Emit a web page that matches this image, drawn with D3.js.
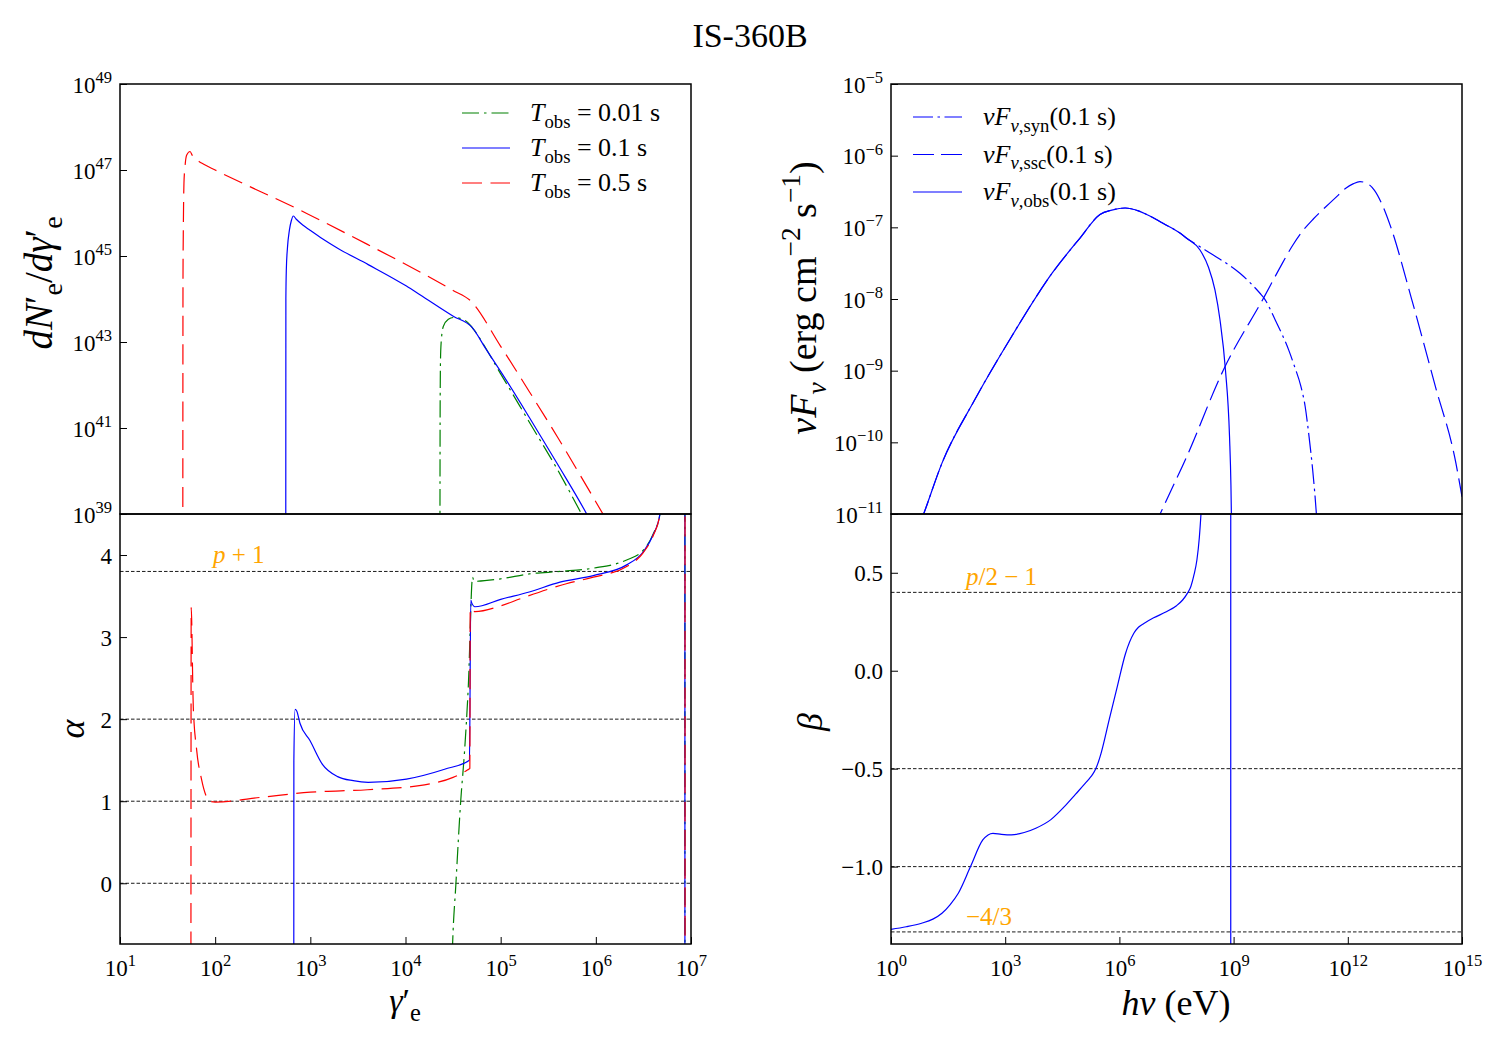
<!DOCTYPE html>
<html lang="en">
<head>
<meta charset="UTF-8">
<script src="https://cdnjs.cloudflare.com/ajax/libs/d3/7.8.5/d3.min.js"></script>
<title>IS-360B</title>
<style>
  body { margin: 0; background: #fff; }
  text { font-family: "Liberation Serif", "DejaVu Serif", serif; fill: #000; }
</style>
</head>
<body>
<div id="draw-here"></div>
<script>
/* electron spectra, log10 gamma' and log10 dN'/dgamma' */
var lgG_01 = [4.362, 4.364, 4.368, 4.375, 4.397, 4.45, 4.502, 4.573, 4.678, 4.72, 5.0, 5.3, 5.6, 5.85];
var lgN_01 = [38.5, 41.5, 42.6, 43.0, 43.36, 43.53, 43.57, 43.55, 43.40, 43.28, 42.26, 41.14, 40.02, 39.0];

var lgG_1 = [2.742, 2.743, 2.748, 2.76, 2.78, 2.80, 2.822, 2.85, 2.92, 2.996, 3.127, 3.287, 3.608, 4.01, 4.152, 4.502, 4.695, 4.853, 5.045, 5.3, 5.6, 5.904, 6.0];
var lgN_1 = [38.5, 44.0, 44.7, 45.2, 45.6, 45.82, 45.93, 45.86, 45.72, 45.60, 45.40, 45.18, 44.80, 44.30, 44.10, 43.60, 43.35, 42.81, 42.16, 41.25, 40.15, 39.0, 38.6];

var lgG_5 = [1.660, 1.662, 1.665, 1.672, 1.683, 1.701, 1.736, 1.76, 1.788, 1.83, 1.875, 2.0, 2.962, 3.6, 4.2, 4.5, 4.678, 5.0, 5.3, 5.6, 5.9, 6.08];
var lgN_5 = [38.5, 44.5, 45.5, 46.69, 47.08, 47.35, 47.43, 47.34, 47.27, 47.20, 47.14, 47.0, 45.99, 45.27, 44.57, 44.20, 43.97, 42.90, 41.85, 40.78, 39.66, 38.98];

/* local slope alpha */
var lgGa_01 = [4.45, 4.495, 4.53, 4.58, 4.62, 4.66, 4.705, 4.72, 5.0, 5.3, 5.623, 5.973, 6.324, 6.499, 6.604, 6.674, 6.75, 6.935, 6.937];
var al_01 = [-3, -0.74, 0, 1.0, 1.6, 2.4, 3.73, 3.68, 3.71, 3.77, 3.80, 3.84, 3.94, 4.06, 4.26, 4.5, 6, 50, -50];

var lgGa_1 = [2.825, 2.827, 2.84, 2.857, 2.891, 2.996, 3.127, 3.287, 3.45, 3.608, 4.01, 4.411, 4.672, 4.686, 4.695, 4.73, 5.0, 5.3, 5.623, 5.973, 6.324, 6.499, 6.604, 6.674, 6.75, 6.935, 6.937];
var al_1 = [-5, 1.5, 2.12, 2.10, 1.95, 1.74, 1.45, 1.30, 1.25, 1.23, 1.27, 1.39, 1.50, 3.45, 3.42, 3.37, 3.46, 3.55, 3.67, 3.75, 3.88, 4.04, 4.25, 4.5, 6, 50, -50];

var lgGa_5 = [1.744, 1.748, 1.77, 1.806, 1.858, 1.911, 1.96, 2.0, 2.5, 3.0, 3.6, 4.2, 4.5, 4.65, 4.676, 4.680, 4.73, 5.0, 5.213, 5.69, 5.973, 6.324, 6.499, 6.604, 6.674, 6.75, 6.936, 6.938];
var al_5 = [-5, 3.36, 2.15, 1.62, 1.26, 1.05, 0.995, 0.99, 1.05, 1.11, 1.14, 1.20, 1.29, 1.38, 1.40, 3.35, 3.31, 3.38, 3.47, 3.65, 3.73, 3.86, 4.03, 4.24, 4.5, 6, 50, -50];

/* photon spectra, log10 h nu (eV) and log10 nuFnu */
var lgE_obs = [0.8, 0.857, 1.339, 2.196, 3.161, 4.232, 4.965, 5.49, 5.8, 6.15, 6.5, 6.716, 7.2, 7.59, 7.767, 8.117, 8.335, 8.51, 8.642, 8.786, 8.893, 8.93, 8.95];
var lgF_obs = [-11.08, -11, -10.29, -9.41, -8.53, -7.64, -7.15, -6.82, -6.76, -6.73, -6.77, -6.82, -6.96, -7.08, -7.153, -7.316, -7.549, -7.874, -8.29, -8.99, -9.92, -10.6, -11.3];

var lgE_syn = [0.8, 0.857, 1.339, 2.196, 3.161, 4.232, 4.965, 5.49, 5.8, 6.15, 6.5, 6.716, 7.2, 7.59, 7.767, 8.117, 8.466, 9.167, 9.693, 9.804, 10.1, 10.446, 10.6, 10.768, 10.88, 10.982, 11.08, 11.175, 11.2];
var lgF_syn = [-11.08, -11, -10.29, -9.41, -8.53, -7.64, -7.15, -6.82, -6.76, -6.73, -6.77, -6.82, -6.96, -7.08, -7.153, -7.27, -7.386, -7.641, -7.92, -7.99, -8.3, -8.71, -8.94, -9.22, -9.5, -9.92, -10.4, -11, -11.2];

var lgE_ssc = [6.9, 7.07, 7.768, 8.732, 9.804, 10.2, 10.554, 10.8, 11.1, 11.518, 11.75, 11.946, 12.15, 12.32, 12.5, 12.696, 12.9, 13.125, 13.66, 14.30, 14.84, 15.0];
var lgF_ssc = [-11.2, -11, -10.2, -8.99, -7.97, -7.58, -7.25, -7.06, -6.88, -6.665, -6.55, -6.455, -6.39, -6.363, -6.385, -6.48, -6.68, -6.99, -7.97, -9.22, -10.29, -10.76];

/* spectral index beta */
var lgE_b = [0, 0.4, 0.804, 1.1, 1.339, 1.55, 1.768, 2.089, 2.411, 2.55, 2.679, 2.9, 3.161, 3.5, 3.804, 4.2, 4.554, 4.85, 5.089, 5.2, 5.3, 5.379, 5.45, 5.518, 5.732, 5.946, 6.161, 6.375, 6.5, 6.643, 6.9, 7.232, 7.5, 7.661, 7.8, 7.875, 7.96, 8.036, 8.1, 8.143, 8.2, 8.924, 8.926];
var beta = [-1.32, -1.307, -1.289, -1.268, -1.238, -1.195, -1.136, -1.0, -0.864, -0.838, -0.830, -0.835, -0.838, -0.826, -0.804, -0.76, -0.694, -0.63, -0.578, -0.553, -0.528, -0.5, -0.465, -0.422, -0.25, -0.08, 0.088, 0.19, 0.222, 0.241, 0.27, 0.301, 0.332, 0.361, 0.40, 0.429, 0.49, 0.565, 0.68, 0.8, 1.0, 50, -50];

/* reference levels and ticks */
var alphaRefs = [3.8, 2, 1, 0];
var betaRefs = [0.4, -0.5, -1.0, -4 / 3];
var nTicks = [39, 41, 43, 45, 47, 49];
var gTicks = [1, 2, 3, 4, 5, 6, 7];
var fTicks = [-11, -10, -9, -8, -7, -6, -5];
var eTicks = [0, 3, 6, 9, 12, 15];
var aTicks = [0, 1, 2, 3, 4];
var bTicks = [-1.0, -0.5, 0.0, 0.5];

var W = 1500, H = 1050;
var LX0 = 120, LX1 = 691, RX0 = 891, RX1 = 1462;
var TY0 = 84, MY = 514, BY1 = 944;

var svg = d3.select("#draw-here").append("svg")
	.attr("width", W).attr("height", H);

var xG = d3.scaleLog().domain([1e1, 1e7]).range([LX0, LX1]);
var yN = d3.scaleLog().domain([1e39, 1e49]).range([MY, TY0]);
var yA = d3.scaleLinear().domain([-0.74, 4.5]).range([BY1, MY]);
var xE = d3.scaleLog().domain([1, 1e15]).range([RX0, RX1]);
var yF = d3.scaleLog().domain([1e-11, 1e-5]).range([MY, TY0]);
var yB = d3.scaleLinear().domain([-1.395, 0.8]).range([BY1, MY]);

function p10(v) { return Math.pow(10, v); }

/* write text with italic / sub / sup pieces */
function rich(sel, parts, size) {
	var t = sel.append("text").attr("font-size", size);
	var shift = 0;
	parts.forEach(function(p) {
		var target = p.s === "sup" ? -0.42 * size : (p.s === "sub" ? 0.25 * size : 0);
		var sp = t.append("tspan").text(p.t).attr("dy", target - shift);
		shift = target;
		if (p.s) sp.attr("font-size", size * 0.72);
		if (p.i) sp.attr("font-style", "italic");
		if (p.c) sp.attr("fill", p.c);
	});
	return t;
}

var defs = svg.append("defs");
function clipFor(id, x0, y0, x1, y1) {
	defs.append("clipPath").attr("id", id).append("rect")
		.attr("x", x0).attr("y", y0).attr("width", x1 - x0).attr("height", y1 - y0);
	return svg.append("g").attr("clip-path", "url(#" + id + ")");
}

function drawLine(g, xs, ys, xsc, ysc, logY, color, dash) {
	var pts = xs.map(function(x, i) { return [p10(x), logY ? p10(ys[i]) : ys[i]]; });
	var line = d3.line()
		.x(function(d) { return xsc(d[0]); })
		.y(function(d) { return ysc(d[1]); })
		.curve(d3.curveMonotoneX);
	g.append("path").attr("d", line(pts))
		.attr("fill", "none").attr("stroke", color).attr("stroke-width", 1.2)
		.attr("stroke-dasharray", dash);
}

var DD_L = "17,5,2.5,5", DA_L = "20,8.5";
var DD_R = "20,4.5,2.5,4.5", DA_R = "21,7";

/* ---------- top left ---------- */
var gTL = clipFor("cTL", LX0, TY0, LX1, MY);
drawLine(gTL, lgG_01, lgN_01, xG, yN, true, "#008000", DD_L);
drawLine(gTL, lgG_1, lgN_1, xG, yN, true, "#0000ff", null);
drawLine(gTL, lgG_5, lgN_5, xG, yN, true, "#ff0000", DA_L);

/* ---------- bottom left ---------- */
var gBL = clipFor("cBL", LX0, MY, LX1, BY1);
alphaRefs.forEach(function(a) {
	gBL.append("line").attr("x1", LX0).attr("x2", LX1).attr("y1", yA(a)).attr("y2", yA(a))
		.attr("stroke", "#000").attr("stroke-width", 0.9).attr("stroke-dasharray", "3.5,2");
});
drawLine(gBL, lgGa_01, al_01, xG, yA, false, "#008000", DD_L);
drawLine(gBL, lgGa_1, al_1, xG, yA, false, "#0000ff", null);
drawLine(gBL, lgGa_5, al_5, xG, yA, false, "#ff0000", DA_L);

/* ---------- top right ---------- */
var gTR = clipFor("cTR", RX0, TY0, RX1, MY);
drawLine(gTR, lgE_syn, lgF_syn, xE, yF, true, "#0000ff", DD_R);
drawLine(gTR, lgE_ssc, lgF_ssc, xE, yF, true, "#0000ff", DA_R);
drawLine(gTR, lgE_obs, lgF_obs, xE, yF, true, "#0000ff", null);

/* ---------- bottom right ---------- */
var gBR = clipFor("cBR", RX0, MY, RX1, BY1);
betaRefs.forEach(function(b) {
	gBR.append("line").attr("x1", RX0).attr("x2", RX1).attr("y1", yB(b)).attr("y2", yB(b))
		.attr("stroke", "#000").attr("stroke-width", 0.9).attr("stroke-dasharray", "3.5,2");
});
drawLine(gBR, lgE_b, beta, xE, yB, false, "#0000ff", null);

/* ---------- axes ---------- */
var TICKFS = 23;
function styleAxis(g) {
	g.select(".domain").remove();
	g.selectAll(".tick line").attr("stroke", "#000").attr("stroke-width", 1);
	g.selectAll(".tick text").remove();
}
function powLabelsLeft(g) {
	g.selectAll(".tick").each(function(d) {
		var e = Math.round(Math.log10(d));
		var es = e < 0 ? "\u2212" + (-e) : "" + e;
		rich(d3.select(this), [{t: "10"}, {t: es, s: "sup"}], TICKFS)
			.attr("x", -8).attr("y", 8).attr("text-anchor", "end");
	});
}
function powLabelsBottom(g) {
	g.selectAll(".tick").each(function(d) {
		var e = Math.round(Math.log10(d));
		rich(d3.select(this), [{t: "10"}, {t: "" + e, s: "sup"}], TICKFS)
			.attr("x", 0).attr("y", 32).attr("text-anchor", "middle");
	});
}
function numLabelsLeft(g, fmt) {
	g.selectAll(".tick").each(function(d) {
		var s = fmt(d).replace("-", "\u2212");
		d3.select(this).append("text").attr("font-size", TICKFS)
			.attr("x", -8).attr("y", 8).attr("text-anchor", "end").text(s);
	});
}

var ax;
ax = svg.append("g").attr("transform", "translate(" + LX0 + ",0)")
	.call(d3.axisLeft(yN).tickValues(nTicks.map(p10)).tickSize(-7).tickFormat(""));
styleAxis(ax); powLabelsLeft(ax);

ax = svg.append("g").attr("transform", "translate(" + LX0 + ",0)")
	.call(d3.axisLeft(yA).tickValues(aTicks).tickSize(-7).tickFormat(""));
styleAxis(ax); numLabelsLeft(ax, d3.format("d"));

ax = svg.append("g").attr("transform", "translate(0," + BY1 + ")")
	.call(d3.axisBottom(xG).tickValues(gTicks.map(p10)).tickSize(-7).tickFormat(""));
styleAxis(ax); powLabelsBottom(ax);

ax = svg.append("g").attr("transform", "translate(" + RX0 + ",0)")
	.call(d3.axisLeft(yF).tickValues(fTicks.map(p10)).tickSize(-7).tickFormat(""));
styleAxis(ax); powLabelsLeft(ax);

ax = svg.append("g").attr("transform", "translate(" + RX0 + ",0)")
	.call(d3.axisLeft(yB).tickValues(bTicks).tickSize(-7).tickFormat(""));
styleAxis(ax); numLabelsLeft(ax, d3.format(".1f"));

ax = svg.append("g").attr("transform", "translate(0," + BY1 + ")")
	.call(d3.axisBottom(xE).tickValues(eTicks.map(p10)).tickSize(-7).tickFormat(""));
styleAxis(ax); powLabelsBottom(ax);

/* frames */
[[LX0, TY0, LX1, MY], [LX0, MY, LX1, BY1], [RX0, TY0, RX1, MY], [RX0, MY, RX1, BY1]].forEach(function(b) {
	svg.append("rect").attr("x", b[0]).attr("y", b[1]).attr("width", b[2] - b[0]).attr("height", b[3] - b[1])
		.attr("fill", "none").attr("stroke", "#000").attr("stroke-width", 1.5);
});

/* ---------- texts ---------- */
svg.append("text").attr("x", 750).attr("y", 47).attr("text-anchor", "middle")
	.attr("font-size", 34).text("IS-360B");

rich(svg, [{t: "dN", i: true}, {t: "\u2032"}, {t: "e", s: "sub"}, {t: "/"}, {t: "d\u03b3", i: true}, {t: "\u2032"}, {t: "e", s: "sub"}], 39)
	.attr("text-anchor", "middle").attr("transform", "translate(52,283) rotate(-90)");
rich(svg, [{t: "\u03b1", i: true}], 36)
	.attr("text-anchor", "middle").attr("transform", "translate(84,729) rotate(-90)");
rich(svg, [{t: "\u03b3", i: true}, {t: "\u2032"}, {t: "e", s: "sub"}], 34)
	.attr("text-anchor", "middle").attr("x", 405).attr("y", 1012);

rich(svg, [{t: "\u03bdF", i: true}, {t: "\u03bd", i: true, s: "sub"}, {t: " (erg cm"}, {t: "\u22122", s: "sup"}, {t: " s"}, {t: "\u22121", s: "sup"}, {t: ")"}], 38)
	.attr("text-anchor", "middle").attr("transform", "translate(816,298) rotate(-90)");
rich(svg, [{t: "\u03b2", i: true}], 36)
	.attr("text-anchor", "middle").attr("transform", "translate(822,722) rotate(-90)");
rich(svg, [{t: "h\u03bd", i: true}, {t: " (eV)"}], 36)
	.attr("text-anchor", "middle").attr("x", 1176).attr("y", 1015);

/* orange level labels */
rich(svg, [{t: "p", i: true, c: "orange"}, {t: " + 1", c: "orange"}], 25).attr("x", 213).attr("y", 563);
rich(svg, [{t: "p", i: true, c: "orange"}, {t: "/2 \u2212 1", c: "orange"}], 25).attr("x", 966).attr("y", 585);
rich(svg, [{t: "\u22124/3", c: "orange"}], 25).attr("x", 966).attr("y", 925);

/* ---------- legends ---------- */
var legL = [
	{c: "#008000", d: DD_L, v: "0.01"},
	{c: "#0000ff", d: null, v: "0.1"},
	{c: "#ff0000", d: DA_L, v: "0.5"}
];
legL.forEach(function(e, i) {
	var y = 113 + i * 35;
	svg.append("line").attr("x1", 462).attr("x2", 510).attr("y1", y).attr("y2", y)
		.attr("stroke", e.c).attr("stroke-width", 1.2).attr("stroke-dasharray", e.d);
	rich(svg, [{t: "T", i: true}, {t: "obs", s: "sub"}, {t: " = " + e.v + " s"}], 26)
		.attr("x", 530).attr("y", y + 8);
});

var legR = [
	{d: DD_R, n: "syn"},
	{d: DA_R, n: "ssc"},
	{d: null, n: "obs"}
];
legR.forEach(function(e, i) {
	var y = 117 + i * 37.5;
	svg.append("line").attr("x1", 913).attr("x2", 962).attr("y1", y).attr("y2", y)
		.attr("stroke", "#0000ff").attr("stroke-width", 1.2).attr("stroke-dasharray", e.d);
	rich(svg, [{t: "\u03bdF", i: true}, {t: "\u03bd", i: true, s: "sub"}, {t: "," + e.n, s: "sub"}, {t: "(0.1 s)"}], 26)
		.attr("x", 983).attr("y", y + 8);
});
</script>
</body>
</html>
